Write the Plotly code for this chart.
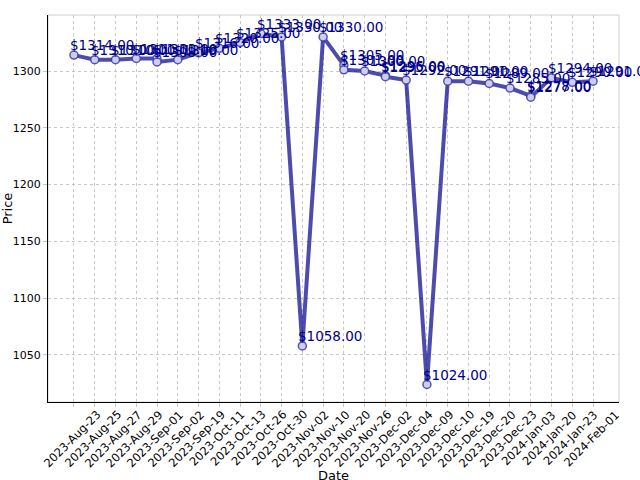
import plotly.graph_objects as go

categories = ["2023-Aug-23", "2023-Aug-25", "2023-Aug-27", "2023-Aug-29", "2023-Sep-01",
              "2023-Sep-02", "2023-Sep-19", "2023-Oct-11", "2023-Oct-13", "2023-Oct-26",
              "2023-Oct-30", "2023-Nov-02", "2023-Nov-10", "2023-Nov-20", "2023-Nov-26",
              "2023-Dec-02", "2023-Dec-04", "2023-Dec-09", "2023-Dec-10", "2023-Dec-19",
              "2023-Dec-20", "2023-Dec-23", "2024-Jan-03", "2024-Jan-20", "2024-Jan-23",
              "2024-Feb-01"]

dates = ["2023-Aug-23", "2023-Aug-25", "2023-Aug-27", "2023-Aug-29", "2023-Sep-01",
         "2023-Sep-01", "2023-Sep-02", "2023-Sep-19", "2023-Oct-11", "2023-Oct-13",
         "2023-Oct-26", "2023-Oct-30", "2023-Nov-02", "2023-Nov-10", "2023-Nov-20",
         "2023-Nov-20", "2023-Nov-26", "2023-Dec-02", "2023-Dec-02", "2023-Dec-04",
         "2023-Dec-09", "2023-Dec-10", "2023-Dec-19", "2023-Dec-20", "2023-Dec-23",
         "2024-Jan-03", "2024-Jan-03", "2024-Jan-20", "2024-Jan-23", "2024-Feb-01"]
prices = [1314, 1310, 1310, 1311, 1311,
          1308, 1310, 1316, 1320, 1325,
          1333, 1330, 1058, 1330, 1305,
          1301, 1300, 1296, 1295, 1292,
          1024, 1291, 1291, 1289, 1285,
          1278, 1277, 1294, 1290, 1291]

fig = go.Figure()
fig.add_trace(go.Scatter(
    x=dates, y=prices, mode="lines+markers",
    line=dict(color="rgba(0,0,139,0.7)", width=4),
    marker=dict(symbol="circle", size=8, color="rgba(205,205,240,1)",
                line=dict(color="rgba(60,60,160,0.85)", width=1.5)),
    showlegend=False,
))

annotations = []
for d, p in zip(dates, prices):
    annotations.append(dict(
        x=d, y=p, text=f"${p:.2f}", showarrow=False,
        xanchor="left", yanchor="middle", xshift=-6, yshift=10,
        font=dict(family="DejaVu Sans", size=13.5, color="#00008b"),
    ))

# x tick labels centred on their ticks, rotated 45 degrees
for c in categories:
    annotations.append(dict(
        x=c, y=0, xref="x", yref="paper", text=c, showarrow=False,
        textangle=-45, xanchor="center", yanchor="top", yshift=-3, xshift=-2,
        font=dict(family="DejaVu Sans", size=11.5, color="black"),
    ))

annotations.append(dict(
    x=0.5, y=-0.19, xref="paper", yref="paper", text="Date", showarrow=False,
    xanchor="center", yanchor="middle",
    font=dict(family="DejaVu Sans", size=13, color="black"),
))

fig.update_layout(
    width=640, height=480,
    margin=dict(l=48, r=21, t=15, b=78),
    paper_bgcolor="white", plot_bgcolor="white",
    font=dict(family="DejaVu Sans", color="black"),
    annotations=annotations,
    shapes=[dict(type="rect", xref="paper", yref="paper", x0=0, y0=0, x1=1, y1=1,
                 line=dict(color="#d0d0d0", width=1), layer="below")],
    xaxis=dict(
        type="category", categoryorder="array", categoryarray=categories,
        range=[-1.25, 26.25],
        showticklabels=False,
        showgrid=True, gridcolor="#c8c8c8", griddash="dot", gridwidth=1,
        showline=True, linecolor="black", linewidth=1.2,
        ticks="outside", ticklen=4, tickcolor="#c8c8c8",
        zeroline=False, automargin=False,
    ),
    yaxis=dict(
        range=[1008.6, 1349.3],
        tickvals=[1050, 1100, 1150, 1200, 1250, 1300],
        tickfont=dict(size=11),
        showgrid=True, gridcolor="#c8c8c8", griddash="dot", gridwidth=1,
        showline=True, linecolor="black", linewidth=1.2,
        ticks="outside", ticklen=4, tickcolor="#c8c8c8",
        title=dict(text="Price", font=dict(size=13), standoff=6),
        zeroline=False, automargin=False,
    ),
)

fig.write_html("out.html")
